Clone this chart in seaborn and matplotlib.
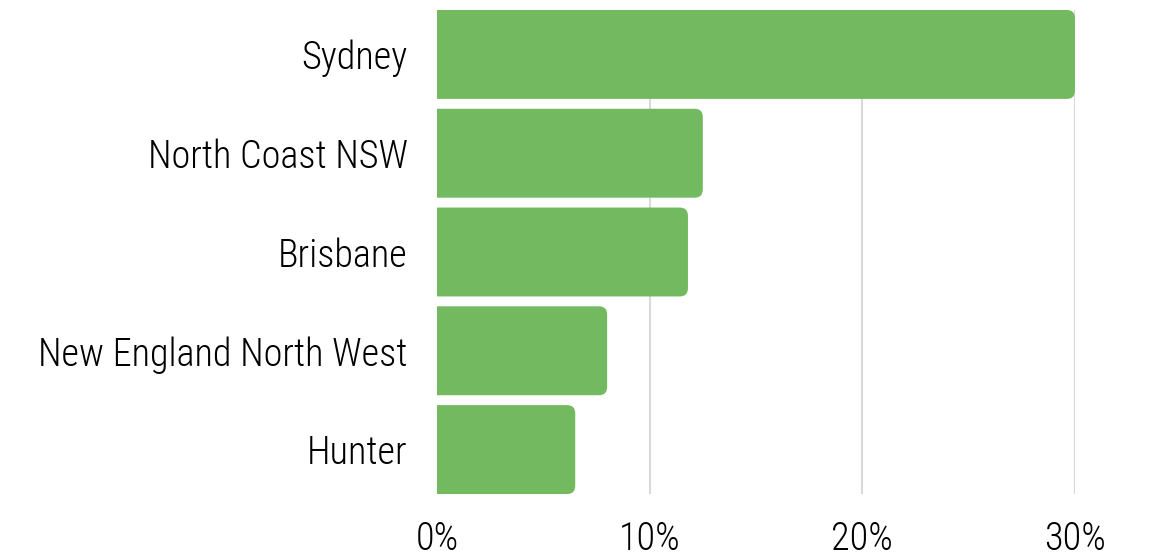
import matplotlib
matplotlib.use("Agg")
import matplotlib.pyplot as plt
import seaborn as sns
import pandas as pd
from matplotlib import font_manager
from matplotlib.patches import FancyBboxPatch

# data
regions = ["Sydney", "North Coast NSW", "Brisbane", "New England North West", "Hunter"]
shares = [30.0, 12.5, 11.8, 8.0, 6.5]
ticks = [0, 10, 20, 30]
tick_labels = ["0%", "10%", "20%", "30%"]

df = pd.DataFrame({"region": regions, "share": shares})

sns.set_theme(style="white")
names = {f.name for f in font_manager.fontManager.ttflist}
fam = [n for n in ["Roboto Condensed", "Liberation Sans Narrow", "Roboto", "DejaVu Sans"] if n in names]
plt.rcParams["font.family"] = fam
condensed = fam[0] in ("Roboto Condensed", "Liberation Sans Narrow")

fig = plt.figure(figsize=(11.53, 5.59), dpi=100)
ax = fig.add_axes([437 / 1153, 1 - 494 / 559, (1075 - 437) / 1153, 484 / 559])

green = "#72b95f"
sns.barplot(data=df, x="share", y="region", color=green, width=0.9,
            saturation=1, ax=ax, zorder=2)

# swap flat bars for ones with rounded right corners (left side clipped at 0)
for p in list(ax.patches):
    x, y, w, h = p.get_x(), p.get_y(), p.get_width(), p.get_height()
    p.remove()
    rb = FancyBboxPatch((x - 2, y), w + 2, h,
                        boxstyle="round,pad=0,rounding_size=0.38",
                        mutation_aspect=0.22,
                        facecolor=green, edgecolor="none", zorder=2)
    ax.add_patch(rb)

ax.set_xlim(0, 30)
ax.set_ylim(4.45, -0.45)
ax.set_xticks(ticks)
ax.set_xticklabels(tick_labels)
for t in ticks[1:]:
    ax.axvline(t, color="#d9d9d9", lw=1.5, zorder=1)
ax.set_xlabel("")
ax.set_ylabel("")
for s in ax.spines.values():
    s.set_visible(False)
fs = 27.5 if condensed else 22
ax.tick_params(axis="x", length=0, pad=19, labelsize=fs, colors="black")
ax.tick_params(axis="y", length=0, pad=21, labelsize=fs, colors="black")
for lab in ax.get_xticklabels() + ax.get_yticklabels():
    lab.set_fontweight("light")

fig.savefig("out.png", dpi=100)
